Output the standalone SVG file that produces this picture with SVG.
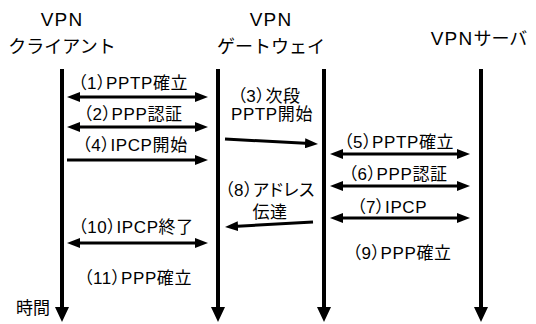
<svg xmlns="http://www.w3.org/2000/svg" width="536" height="324" viewBox="0 0 536 324">
<defs>
<style>
text{font-family:"Liberation Sans","Noto Sans CJK JP",sans-serif;fill:#000;text-anchor:middle}
.h{font-size:18px}
.v{font-size:19px;letter-spacing:1.2px}
.l{font-size:17px;letter-spacing:0.6px;font-feature-settings:"palt"}
.life{stroke:#000;stroke-width:4;fill:none;marker-end:url(#vh)}
.msg{stroke:#000;stroke-width:3;fill:none;marker-end:url(#ah)}
.both{marker-start:url(#ah)}
</style>
<marker id="ah" markerUnits="userSpaceOnUse" markerWidth="13" markerHeight="10" refX="5" refY="5" orient="auto-start-reverse" viewBox="0 0 13 10">
<path d="M0,0 L13,5 L0,10 z" fill="#000"/>
</marker>
<marker id="vh" markerUnits="userSpaceOnUse" markerWidth="15" markerHeight="14" refX="2" refY="7" orient="auto" viewBox="0 0 15 14">
<path d="M0,0 L15,7 L0,14 z" fill="#000"/>
</marker>
</defs>
<rect width="536" height="324" fill="#fff"/>
<g id="client">
<text class="v" x="62" y="26">VPN</text>
<text class="h" x="62" y="53">クライアント</text>
<line class="life" x1="62" y1="69" x2="62" y2="309"/>
<text class="h" x="33" y="314" style="font-size:17px">時間</text>
</g>
<g id="gateway">
<text class="v" x="271" y="26">VPN</text>
<text class="h" x="271" y="53">ゲートウェイ</text>
<line class="life" x1="218" y1="69" x2="218" y2="309"/>
<line class="life" x1="324" y1="69" x2="324" y2="309"/>
</g>
<g id="server">
<text class="h" x="479" y="45"><tspan style="font-size:19px;letter-spacing:1.2px">VPN</tspan>サーバ</text>
<line class="life" x1="481" y1="69" x2="481" y2="309"/>
</g>
<g id="connectors">
<line class="msg both" x1="75" y1="97" x2="200" y2="97"/>
<line class="msg both" x1="75" y1="127" x2="200" y2="127"/>
<line class="msg" x1="67" y1="160" x2="200" y2="160"/>
<line class="msg" x1="225" y1="139" x2="310" y2="143.6"/>
<line class="msg both" x1="338" y1="154" x2="462" y2="154"/>
<line class="msg both" x1="338" y1="186" x2="462" y2="186"/>
<line class="msg both" x1="338" y1="218" x2="462" y2="218"/>
<line class="msg" x1="313" y1="222" x2="233" y2="226.5"/>
<line class="msg both" x1="75" y1="243" x2="200" y2="243"/>
</g>
<g id="labels">
<text class="l" x="133" y="89">（1）PPTP確立</text>
<text class="l" x="133" y="120">（2）PPP認証</text>
<text class="l" x="135" y="151">（4）IPCP開始</text>
<text class="l" x="269" y="101.5">（3）次段</text>
<text class="l" x="272" y="120">PPTP開始</text>
<text class="l" x="399" y="148">（5）PPTP確立</text>
<text class="l" x="398" y="180">（6）PPP認証</text>
<text class="l" x="392" y="213">（7）IPCP</text>
<text class="l" x="270" y="196">（8）アドレス</text>
<text class="l" x="270" y="218">伝達</text>
<text class="l" x="402" y="259">（9）PPP確立</text>
<text class="l" x="136" y="233">（10）IPCP終了</text>
<text class="l" x="138" y="284">（11）PPP確立</text>
</g>
</svg>
